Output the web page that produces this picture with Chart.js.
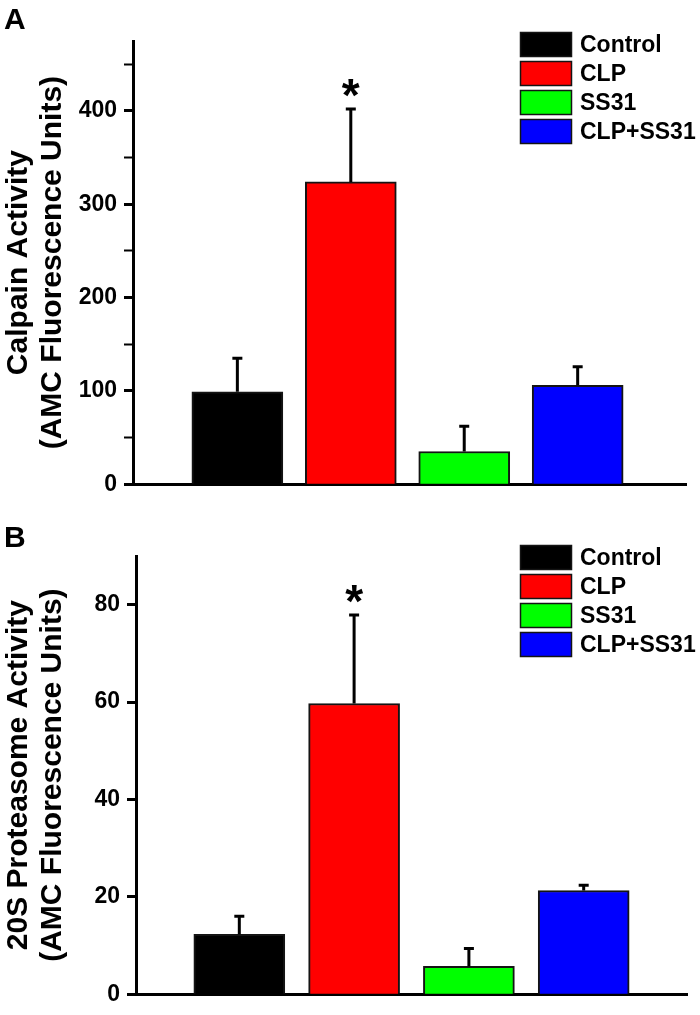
<!DOCTYPE html>
<html><head><meta charset="utf-8">
<script src="https://cdn.jsdelivr.net/npm/chart.js@4.4.1/dist/chart.umd.min.js"></script>
<style>
html,body{margin:0;padding:0;background:#fff;}
#wrap{position:relative;width:700px;height:1015px;}
canvas{position:absolute;left:0;display:block;}
</style></head><body>
<div id="wrap">
<canvas id="cA" width="700" height="505" style="top:0"></canvas>
<canvas id="cB" width="700" height="510" style="top:505px"></canvas>
</div>
<script>
// ---- data ----
const categories = ['Control', 'CLP', 'SS31', 'CLP+SS31'];
const barColors = ['#000000', '#ff0000', '#00ff00', '#0000ff'];
const significant = [false, true, false, false];

const calpainMean = [99, 324, 35, 106];
const calpainErr = [36, 78, 27, 20];
const calpainTitle = ['Calpain Activity', '(AMC Fluorescence Units)'];
const calpainMax = 475, calpainStep = 50, calpainLabelStep = 100;

const proteasomeMean = [12.3, 59.7, 5.7, 21.3];
const proteasomeErr = [3.7, 18.2, 3.7, 1.1];
const proteasomeTitle = ['20S Proteasome Activity', '(AMC Fluorescence Units)'];
const proteasomeMax = 90, proteasomeStep = 20, proteasomeLabelStep = 20;

const FONT = '"Liberation Sans", Arial, Helvetica, sans-serif';

function makeChart(id, cfg) {
  const extras = {
    id: 'extras',
    afterDatasetsDraw(chart) {
      const ctx = chart.ctx;
      const ys = chart.scales.y;
      const meta = chart.getDatasetMeta(0);
      ctx.save();
      // error bars
      meta.data.forEach((bar, i) => {
        const top = ys.getPixelForValue(cfg.means[i] + cfg.errs[i]);
        ctx.strokeStyle = '#000';
        ctx.lineWidth = 3;
        ctx.beginPath();
        ctx.moveTo(bar.x, bar.y);
        ctx.lineTo(bar.x, top);
        ctx.moveTo(bar.x - 5, top);
        ctx.lineTo(bar.x + 5, top);
        ctx.stroke();
        if (significant[i]) {
          ctx.fillStyle = '#000';
          ctx.font = 'bold 46px ' + FONT;
          ctx.textAlign = 'center';
          ctx.textBaseline = 'alphabetic';
          const m = ctx.measureText('*');
          const cy = top - 21;
          const base = cy + (m.actualBoundingBoxAscent - m.actualBoundingBoxDescent) / 2;
          ctx.fillText('*', bar.x, base);
        }
      });
      // legend
      ctx.font = 'bold 23px ' + FONT;
      ctx.textAlign = 'left';
      ctx.textBaseline = 'middle';
      categories.forEach((c, i) => {
        const y = cfg.legendTop + i * 29;
        ctx.fillStyle = barColors[i];
        ctx.fillRect(520, y, 52, 25);
        ctx.strokeStyle = '#141414';
        ctx.lineWidth = 1.5;
        ctx.strokeRect(520.5, y + 0.5, 51, 24);
        ctx.fillStyle = '#000';
        ctx.fillText(c, 580, y + 13.5);
      });
      // panel letter
      ctx.font = 'bold 30px ' + FONT;
      ctx.textBaseline = 'alphabetic';
      ctx.fillText(cfg.letter, 4, cfg.letterBase);
      ctx.restore();
    }
  };

  return new Chart(document.getElementById(id), {
    type: 'bar',
    data: {
      datasets: [{
        data: cfg.means.map((v, i) => ({ x: i + 1, y: v })),
        backgroundColor: barColors,
        borderColor: '#141414',
        borderWidth: 2,
        barThickness: 91
      }]
    },
    options: {
      responsive: false,
      animation: false,
      devicePixelRatio: 1,
      layout: { padding: { top: cfg.padTop, right: cfg.padRight, left: 0, bottom: 0 } },
      plugins: { legend: { display: false }, tooltip: { enabled: false } },
      scales: {
        x: {
          type: 'linear', min: cfg.xMin, max: cfg.xMax, offset: false,
          grid: { display: false },
          ticks: { display: false },
          border: { display: true, color: '#000', width: 3 },
          afterFit: s => { s.height = cfg.xAxisH; }
        },
        y: {
          min: 0, max: cfg.max,
          ticks: {
            stepSize: cfg.step, includeBounds: false,
            color: '#000', padding: 7,
            font: { family: FONT, size: 23, weight: 'bold' },
            callback: v => (v % cfg.labelStep === 0 ? v : '')
          },
          grid: {
            drawOnChartArea: false, drawTicks: true, tickLength: 9,
            tickColor: '#000',
            tickWidth: c => (c.tick && c.tick.value % cfg.labelStep === 0 ? 3 : 2)
          },
          border: { display: true, color: '#000', width: 3 },
          title: {
            display: true, text: cfg.title, color: '#000',
            font: { family: FONT, size: 30, weight: 'bold', lineHeight: 1.15 },
            padding: { top: 1, bottom: 0 }
          },
          afterFit: s => { s.width = cfg.yAxisW; }
        }
      }
    },
    plugins: [extras]
  });
}

makeChart('cA', {
  means: calpainMean, errs: calpainErr, title: calpainTitle,
  max: calpainMax, step: calpainStep, labelStep: calpainLabelStep,
  xMin: 0.08, xMax: 4.955, padRight: 14,
  padTop: 41, xAxisH: 20.5, yAxisW: 133, legendTop: 32, letter: 'A', letterBase: 28.5
});
makeChart('cB', {
  means: proteasomeMean, errs: proteasomeErr, title: proteasomeTitle,
  max: proteasomeMax, step: proteasomeStep, labelStep: proteasomeLabelStep,
  xMin: 0.1, xMax: 4.9, padRight: 13,
  padTop: 51, xAxisH: 16, yAxisW: 136, legendTop: 40, letter: 'B', letterBase: 42
});
</script>
</body></html>
